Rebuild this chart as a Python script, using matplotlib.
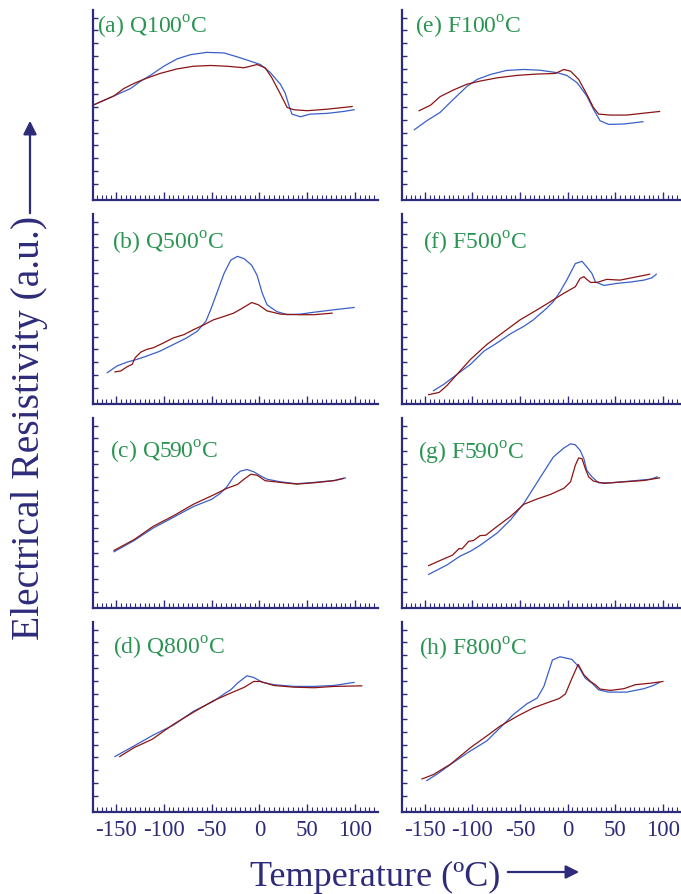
import matplotlib
matplotlib.use("Agg")
import matplotlib.pyplot as plt
import numpy as np
from matplotlib.ticker import MultipleLocator, FixedLocator, NullFormatter

plt.rcParams["font.family"] = ["Liberation Serif", "DejaVu Serif"]
plt.rcParams["mathtext.fontset"] = "custom"
plt.rcParams["mathtext.rm"] = "Liberation Serif"
plt.rcParams["axes.unicode_minus"] = False

NAVY = "#2e2b7a"
BLUE = "#3a5fc8"
RED = "#8b1414"
GREEN = "#2a9552"

# ---- data (temperature in degC, resistivity in arbitrary units) ----
a_blue_x = [-174, -152, -135, -124, -114, -100, -86, -72, -55, -37, -23, -9, 1, 11, 22, 27, 31, 34, 43, 53, 71, 88, 99]
a_blue_y = [49.9, 54.8, 58.6, 62.6, 65.6, 70.4, 74.3, 76.5, 77.7, 77.4, 75.3, 73.0, 71.3, 67.3, 60.9, 56.2, 49.6, 45.2, 43.8, 45.2, 45.6, 46.6, 47.5]
a_red_x = [-174, -152, -142, -131, -121, -104, -86, -69, -51, -34, -16, -2.5, 6, 13, 22, 29, 36, 50, 71, 97]
a_red_y = [49.9, 54.8, 58.6, 61.4, 63.5, 66.6, 69.0, 70.4, 70.8, 70.4, 69.6, 71.3, 69.6, 64.3, 55.7, 48.7, 47.5, 47.0, 47.8, 49.2]

b_blue_x = [-159, -149, -138, -128, -118, -104, -90, -76, -65, -56, -51, -44, -37, -30, -23, -16, -8, -2.5, 3, 8, 18, 29, 43, 57, 78, 99]
b_blue_y = [16.5, 20.0, 22.1, 23.5, 25.2, 27.8, 31.3, 34.8, 38.3, 43.5, 49.6, 59.1, 68.7, 75.7, 77.7, 76.5, 73.0, 67.8, 58.3, 52.2, 48.7, 47.0, 47.3, 48.3, 49.6, 50.8]
b_red_x = [-151, -145, -138, -133, -130, -124, -118, -111, -100, -90, -79, -69, -58, -48, -37, -27, -18, -8, -1, 8, 22, 41, 57, 76]
b_red_y = [16.9, 17.4, 19.7, 20.9, 24.3, 27.3, 28.7, 29.6, 32.2, 34.8, 36.5, 39.1, 41.7, 44.3, 46.1, 47.8, 50.4, 53.4, 52.2, 49.0, 47.3, 47.0, 47.0, 47.8]

c_blue_x = [-152, -131, -111, -90, -69, -50, -41, -34, -27, -20, -13, -6, 1, 8, 22, 39, 57, 78, 90]
c_blue_y = [29.6, 35.5, 42.1, 47.7, 53.4, 57.2, 60.3, 63.8, 69.0, 72.0, 72.9, 71.7, 69.6, 67.8, 66.4, 65.4, 66.1, 67.1, 68.5]
c_red_x = [-152, -131, -111, -90, -69, -48, -34, -23, -16, -9, -2.5, 6, 22, 39, 57, 78, 88]
c_red_y = [30.3, 36.0, 43.0, 48.5, 54.6, 59.5, 63.0, 65.0, 67.8, 70.4, 69.9, 67.0, 66.1, 65.2, 65.9, 67.0, 68.2]

d_blue_x = [-151, -131, -111, -90, -69, -48, -34, -30, -23, -13, -6, 3, 15, 36, 57, 78, 99]
d_blue_y = [29.2, 34.8, 40.5, 45.7, 53.0, 58.3, 63.1, 64.3, 67.8, 71.7, 70.8, 68.3, 67.0, 66.1, 66.1, 66.6, 68.2]
d_red_x = [-146, -131, -112, -90, -69, -48, -30, -16, -6, 1, 15, 36, 57, 78, 107]
d_red_y = [29.2, 33.9, 38.3, 46.1, 52.5, 58.6, 62.6, 65.6, 68.7, 68.7, 66.6, 65.7, 65.4, 66.1, 66.4]

e_blue_x = [-161, -148, -134, -120, -106, -95, -81, -64, -46, -29, -11, -1, 10, 20, 27, 34, 43, 59, 79]
e_blue_y = [37.0, 41.7, 46.1, 53.0, 59.7, 63.5, 66.1, 68.2, 68.7, 68.3, 67.0, 65.6, 61.7, 54.8, 47.8, 41.7, 39.8, 40.0, 41.2]
e_red_x = [-156, -144, -134, -120, -106, -92, -74, -53, -32, -13, -4, 3, 11.5, 20, 27, 32.5, 45, 62, 80, 96.5]
e_red_y = [47.0, 49.9, 54.4, 57.9, 60.9, 62.6, 64.3, 65.6, 66.3, 66.6, 68.7, 67.8, 63.5, 55.7, 48.7, 45.2, 44.7, 44.7, 45.7, 46.6]

f_blue_x = [-141, -130, -116, -102, -88, -74, -60, -46, -36, -32, -22, -15, -8, -1, 8, 15, 20, 25.5, 29, 38, 52, 66, 80, 88.5, 93]
f_blue_y = [7.0, 10.4, 15.7, 20.9, 27.8, 32.2, 37.0, 40.9, 44.3, 46.1, 50.4, 53.9, 59.1, 65.2, 73.9, 75.1, 72.2, 68.7, 64.3, 62.4, 63.5, 64.2, 65.2, 66.4, 68.3]
f_red_x = [-146, -135, -127, -116, -102, -85, -64, -50, -32, -18, -4, 8, 13, 17, 20, 24, 31, 41, 55, 69, 86]
f_red_y = [4.9, 6.1, 9.6, 15.7, 23.5, 31.3, 39.1, 44.3, 49.6, 53.9, 58.3, 61.7, 66.1, 67.0, 65.6, 64.0, 64.0, 65.6, 65.2, 66.6, 68.3]

g_blue_x = [-146, -127, -113, -102, -92, -74, -60, -46, -36, -25, -15, -4, 3, 8, 13, 17, 20, 25.5, 32.5, 45, 66, 87, 94]
g_blue_y = [17.7, 22.6, 27.3, 29.9, 33.0, 39.5, 46.4, 55.1, 63.0, 71.7, 79.5, 84.2, 86.4, 85.9, 83.0, 78.6, 72.5, 69.0, 65.9, 65.9, 66.8, 67.8, 69.0]
g_red_x = [-146, -134, -121, -114, -111, -104, -99, -92, -86, -74, -60, -46, -32, -18, -4, 3, 8, 11.5, 15, 18.5, 22, 27, 38, 59, 80, 96.5]
g_red_y = [22.3, 25.0, 27.8, 31.3, 31.1, 35.1, 35.5, 38.1, 38.3, 43.0, 48.2, 54.6, 57.4, 59.8, 63.0, 66.4, 75.1, 79.0, 78.6, 73.4, 69.0, 66.8, 65.6, 66.4, 67.1, 68.5]

h_blue_x = [-148, -137, -120, -102, -85, -71, -57, -43, -32, -25, -20, -16, -8, 4.5, 11.5, 18.5, 25.5, 32.5, 43, 62, 80, 90, 96.5]
h_blue_y = [16.5, 20.0, 26.1, 32.2, 37.4, 44.3, 51.3, 56.9, 60.0, 66.1, 73.9, 80.0, 81.7, 80.3, 76.5, 70.4, 67.8, 64.3, 63.1, 63.1, 64.9, 66.6, 68.2]
h_red_x = [-153, -141, -123, -102, -85, -71, -53, -36, -22, -9, -2.4, 4.5, 11, 17, 24, 29, 34, 45, 59, 71, 87, 100]
h_red_y = [17.4, 19.7, 25.2, 33.9, 40.0, 45.2, 50.4, 54.8, 57.4, 59.7, 62.1, 70.4, 77.7, 72.2, 68.7, 67.0, 64.7, 64.0, 64.9, 67.0, 67.8, 68.7]

panel_labels = ["(a) Q100$^{\\rm o}$C", "(b) Q500$^{\\rm o}$C", "(c) Q590$^{\\rm o}$C", "(d) Q800$^{\\rm o}$C",
                "(e) F100$^{\\rm o}$C", "(f) F500$^{\\rm o}$C", "(g) F590$^{\\rm o}$C", "(h) F800$^{\\rm o}$C"]
x_ticks = [-150, -100, -50, 0, 50, 100]

panels = [
    (a_blue_x, a_blue_y, a_red_x, a_red_y),
    (b_blue_x, b_blue_y, b_red_x, b_red_y),
    (c_blue_x, c_blue_y, c_red_x, c_red_y),
    (d_blue_x, d_blue_y, d_red_x, d_red_y),
    (e_blue_x, e_blue_y, e_red_x, e_red_y),
    (f_blue_x, f_blue_y, f_red_x, f_red_y),
    (g_blue_x, g_blue_y, g_red_x, g_red_y),
    (h_blue_x, h_blue_y, h_red_x, h_red_y),
]

W, H = 681, 894
fig = plt.figure(figsize=(W / 100, H / 100), dpi=100)

col_left = [93, 402]
col_width = [285, 279]
col_xlim = [(-174, 124), (-174, 119)]
row_top = [10, 214, 418, 622]
row_h = 190
# label position (axes fraction) per panel
label_pos = [(0.014, 0.91), (0.067, 0.847), (0.06, 0.816), (0.07, 0.863),
             (0.047, 0.91), (0.075, 0.847), (0.057, 0.816), (0.061, 0.853)]

for i, (bx, by, rx, ry) in enumerate(panels):
    col, row = divmod(i, 4)
    ax = fig.add_axes([col_left[col] / W, 1 - (row_top[row] + row_h) / H,
                       col_width[col] / W, row_h / H])
    ax.plot(bx, by, color=BLUE, lw=0.9)
    ax.plot(rx, ry, color=RED, lw=0.9)
    ax.set_xlim(*col_xlim[col])
    ax.set_ylim(0, 100)
    for s in ["top", "right"]:
        ax.spines[s].set_visible(False)
    for s in ["left", "bottom"]:
        ax.spines[s].set_color(NAVY)
        ax.spines[s].set_linewidth(1.6)
    ax.xaxis.set_major_locator(FixedLocator(x_ticks))
    ax.xaxis.set_minor_locator(MultipleLocator(5))
    ax.yaxis.set_major_locator(FixedLocator(np.arange(8.5, 100, 6.73)))
    ax.yaxis.set_major_formatter(NullFormatter())
    ax.tick_params(axis="x", which="major", direction="in", length=5.5, width=1, color=NAVY,
                   labelsize=16.5, labelcolor=NAVY, pad=6)
    ax.tick_params(axis="x", which="minor", direction="in", length=3.5, width=0.8, color=NAVY)
    ax.tick_params(axis="y", which="major", direction="in", length=3.5, width=1, color=NAVY)
    if row < 3:
        ax.set_xticklabels([])
    ax.text(label_pos[i][0], label_pos[i][1], panel_labels[i], transform=ax.transAxes,
            color=GREEN, fontsize=17, va="center", ha="left")

# axis titles with arrows
fig.text(250 / W, 1 - 877 / H, "Temperature (ºC)", color=NAVY, fontsize=26, ha="left", va="center")
fig.add_artist(matplotlib.patches.FancyArrowPatch((505 / W, 1 - 872 / H), (582 / W, 1 - 872 / H),
               transform=fig.transFigure, arrowstyle="-|>,head_length=8,head_width=4",
               color=NAVY, lw=1.6))
fig.text(30 / W, 1 - 428 / H, "Electrical Resistivity (a.u.)", color=NAVY, fontsize=28.5,
         rotation=90, ha="center", va="center")
fig.add_artist(matplotlib.patches.FancyArrowPatch((30 / W, 1 - 216 / H), (30 / W, 1 - 118 / H),
               transform=fig.transFigure, arrowstyle="-|>,head_length=8,head_width=4",
               color=NAVY, lw=1.6))

fig.savefig("out.png", dpi=100, facecolor="white")
